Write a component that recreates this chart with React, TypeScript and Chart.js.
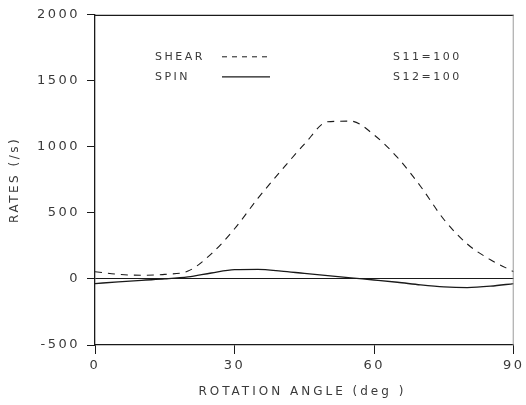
import React, { useEffect, useRef } from "react";
import { Chart, registerables } from "chart.js";

Chart.register(...registerables);

const angles = [0, 5, 10, 15, 20, 25, 30, 35, 40, 45, 50, 55, 60, 65, 70, 75, 80, 85, 90];
const shearRates = [55, 35, 28, 35, 60, 190, 380, 610, 820, 1020, 1190, 1195, 1090, 920, 700, 450, 265, 145, 55];
const spinRates = [-35, -22, -10, 0, 15, 45, 70, 72, 60, 42, 25, 8, -8, -25, -45, -60, -65, -55, -35];
const yTicks = [-500, 0, 500, 1000, 1500, 2000];
const xTicks = [0, 30, 60, 90];
const legendLabels = ["SHEAR", "SPIN"];
const noteLabels = ["S11=100", "S12=100"];
const xTitle = "ROTATION ANGLE (deg )";
const yTitle = "RATES (/s)";

const INK = "#1a1a1a";
const TEXT = "#3a3a3a";
const FONT = "DejaVu Sans";

const decorPlugin = {
  id: "decor",
  beforeDraw(chart: any) {
    (chart.ctx as any).letterSpacing = "2.5px";
  },
  afterDraw(chart: any) {
    const ctx = chart.ctx as CanvasRenderingContext2D;
    const a = chart.chartArea;
    ctx.save();
    // frame top + right
    ctx.strokeStyle = INK;
    ctx.lineWidth = 1.2;
    ctx.beginPath();
    ctx.moveTo(a.left, a.top + 0.5);
    ctx.lineTo(a.right, a.top + 0.5);
    ctx.stroke();
    ctx.strokeStyle = "#9a9a9a";
    ctx.lineWidth = 1;
    ctx.beginPath();
    ctx.moveTo(a.right - 0.5, a.top);
    ctx.lineTo(a.right - 0.5, a.bottom);
    ctx.stroke();

    // legend
    ctx.fillStyle = TEXT;
    ctx.font = `11px ${FONT}`;
    (ctx as any).letterSpacing = "2.5px";
    ctx.textBaseline = "middle";
    ctx.textAlign = "left";
    const lx = a.left + 60;
    const ly1 = a.top + 42;
    const ly2 = a.top + 62;
    ctx.fillText(legendLabels[0], lx, ly1);
    ctx.fillText(legendLabels[1], lx, ly2);
    ctx.fillText(noteLabels[0], a.left + 298, ly1);
    ctx.fillText(noteLabels[1], a.left + 298, ly2);
    ctx.strokeStyle = INK;
    ctx.lineWidth = 1;
    ctx.setLineDash([5, 5]);
    ctx.beginPath();
    ctx.moveTo(a.left + 127, ly1);
    ctx.lineTo(a.left + 172, ly1);
    ctx.stroke();
    ctx.setLineDash([]);
    ctx.lineWidth = 1.3;
    ctx.beginPath();
    ctx.moveTo(a.left + 127, ly2);
    ctx.lineTo(a.left + 175, ly2);
    ctx.stroke();

    // axis titles
    ctx.font = `12px ${FONT}`;
    (ctx as any).letterSpacing = "3px";
    ctx.textAlign = "center";
    ctx.fillText(xTitle, (a.left + a.right) / 2 - 2, 392);
    (ctx as any).letterSpacing = "2.5px";
    ctx.translate(15, (a.top + a.bottom) / 2);
    ctx.rotate(-Math.PI / 2);
    ctx.fillText(yTitle, 0, 0);
    ctx.restore();
  },
};

export default function App() {
  const ref = useRef<HTMLCanvasElement>(null);
  useEffect(() => {
    if (!ref.current) return;
    const chart = new Chart(ref.current, {
      type: "line",
      data: {
        labels: angles,
        datasets: [
          {
            label: legendLabels[0],
            data: angles.map((x, i) => ({ x, y: shearRates[i] })),
            borderColor: INK,
            borderWidth: 1.1,
            borderDash: [7, 6],
            pointRadius: 0,
            cubicInterpolationMode: "monotone",
            fill: false,
          },
          {
            label: legendLabels[1],
            data: angles.map((x, i) => ({ x, y: spinRates[i] })),
            borderColor: INK,
            borderWidth: 1.3,
            pointRadius: 0,
            cubicInterpolationMode: "monotone",
            fill: false,
          },
        ],
      },
      options: {
        responsive: false,
        animation: false,
        layout: { padding: { left: 0, top: 13, right: 8, bottom: 0 } },
        plugins: { legend: { display: false }, tooltip: { enabled: false }, title: { display: false } },
        scales: {
          x: {
            type: "linear",
            min: 0,
            max: 90,
            afterBuildTicks: (s: any) => {
              s.ticks = xTicks.map((v) => ({ value: v }));
            },
            afterFit: (s: any) => {
              s.height = 60;
            },
            border: { display: true, color: INK, width: 1.3 },
            grid: { drawOnChartArea: false, drawTicks: true, tickLength: 9, color: INK, tickColor: INK },
            ticks: {
              color: TEXT,
              font: { family: FONT, size: 13 },
              padding: 4,
              maxRotation: 0,
              callback: (v: any) => String(v),
            },
          },
          y: {
            type: "linear",
            min: -500,
            max: 2000,
            afterBuildTicks: (s: any) => {
              s.ticks = yTicks.map((v) => ({ value: v }));
            },
            afterFit: (s: any) => {
              s.width = 95;
            },
            border: { display: true, color: INK, width: 1.3 },
            grid: {
              drawOnChartArea: true,
              drawTicks: true,
              tickLength: 8,
              tickColor: INK,
              color: (c: any) => (c.tick && c.tick.value === 0 ? INK : "rgba(0,0,0,0)"),
              lineWidth: 1,
            },
            ticks: {
              color: TEXT,
              font: { family: FONT, size: 13 },
              padding: 7,
              callback: (v: any) => String(v),
            },
          },
        },
      },
      plugins: [decorPlugin],
    });
    return () => chart.destroy();
  }, []);
  return (
    <div style={{ position: "fixed", left: 0, top: 0, width: 526, height: 405, background: "#fff" }}>
      <canvas ref={ref} width={526} height={405} />
    </div>
  );
}
